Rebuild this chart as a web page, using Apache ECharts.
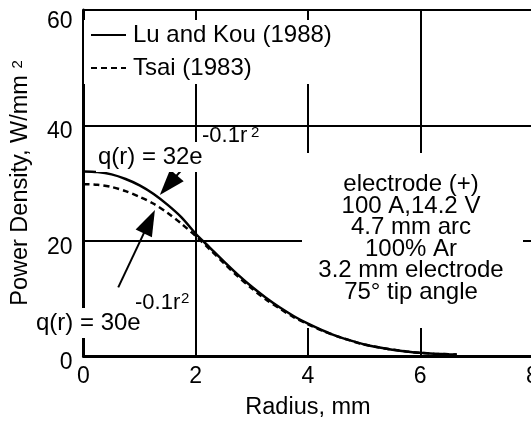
<!DOCTYPE html>
<html><head><meta charset="utf-8">
<script src="https://cdn.jsdelivr.net/npm/echarts@6/dist/echarts.min.js"></script>
<style>html,body{margin:0;padding:0;background:#fff}#c{width:531px;height:421px}</style>
</head><body><div id="c"></div>
<script>
var radius = [0,0.25,0.5,0.75,1,1.25,1.5,1.75,2,2.25,2.5,2.75,3,3.25,3.5,3.75,4,4.25,4.5,4.75,5,5.25,5.5,5.75,6,6.25,6.5,6.65];
var luKou = [32,31.9,31.5,30.7,29.6,28.1,26.2,24.0,21.2,18.8,16.4,14.1,12.0,10.1,8.4,6.9,5.6,4.5,3.5,2.7,2.0,1.5,1.1,0.8,0.55,0.4,0.3,0.25];
var tsai = [29.8,29.7,29.3,28.6,27.6,26.4,24.8,22.9,20.8,18.5,16.1,13.8,11.7,9.8,8.2,6.7,5.5,4.4,3.5,2.7,2.0,1.5,1.1,0.8,0.55,0.4,0.3,0.25];
var xTicks = [0,2,4,6,8];
var yTicks = [0,20,40,60];
var seriesNames = ['Lu and Kou (1988)','Tsai (1983)'];
var infoLines = ['electrode (+)','100 A,14.2 V','4.7 mm arc','100% Ar','3.2 mm electrode','75\u00b0 tip angle'];
// arrow annotations: [tail, head] in data coords
var arrow1 = [[1.747,32.25],[1.512,29.62]];
var arrow2 = [[0.619,11.91],[1.173,23.29]];

var FONT = "'Liberation Sans', Arial, Helvetica, sans-serif";
function pairs(xs, ys){ return xs.map(function(x,i){ return [x, ys[i]]; }); }

var chart = echarts.init(document.getElementById('c'), null, {renderer:'canvas'});
var txt = function(text, x, y, size, bg, align){
  return {type:'text', z:50, x:x, y:y, style:{text:text, fontFamily:FONT, fontSize:size, fill:'#000',
    textAlign:align||'left', textVerticalAlign:'middle', backgroundColor:bg?'#fff':null, padding:bg?[3,2,3,2]:0}};
};
chart.setOption({
  animation:false,
  backgroundColor:'#fff',
  grid:{left:83.5, top:10, width:449, height:346, outerBoundsMode:'none'},
  xAxis:{type:'value', min:xTicks[0], max:xTicks[xTicks.length-1], interval:2,
    name:'Radius, mm', nameLocation:'middle', nameGap:40,
    nameTextStyle:{fontFamily:FONT, fontSize:23.5, color:'#000'},
    axisLine:{lineStyle:{color:'#000', width:3}}, axisTick:{show:false},
    axisLabel:{fontFamily:FONT, fontSize:23, color:'#000', margin:9, showMaxLabel:true},
    splitLine:{show:true, lineStyle:{color:'#000', width:2}}},
  yAxis:{type:'value', min:yTicks[0], max:yTicks[yTicks.length-1], interval:20,
    name:'Power Density, W/mm {s|2}', nameLocation:'middle', nameGap:51,
    nameTextStyle:{fontFamily:FONT, fontSize:23.5, color:'#000', rich:{s:{fontFamily:FONT, fontSize:15, color:'#000', padding:[0,0,5,0]}}},
    axisLine:{lineStyle:{color:'#000', width:3}}, axisTick:{show:false},
    axisLabel:{fontFamily:FONT, fontSize:23, color:'#000', margin:11,
      formatter:function(v){ return v===60 ? '{a|60}' : '{b|'+v+'}'; },
      rich:{a:{fontFamily:FONT, fontSize:23, color:'#000', padding:[24,0,0,0]},
            b:{fontFamily:FONT, fontSize:23, color:'#000', padding:[13,0,0,0]}}},
    splitLine:{show:true, lineStyle:{color:'#000', width:2}}},
  legend:{left:84, top:20, orient:'vertical', itemWidth:35, itemHeight:12, itemGap:9,
    backgroundColor:'#fff', padding:[3,10,4,6],
    itemStyle:{opacity:0},
    textStyle:{fontFamily:FONT, fontSize:24, color:'#000', lineHeight:24, padding:[0,0,0,2]},
    data:seriesNames},
  series:[
    {name:seriesNames[0], type:'line', data:pairs(radius, luKou), showSymbol:false, symbol:'none', smooth:0.3,
      lineStyle:{color:'#000', width:2.5}, itemStyle:{color:'#000'}, z:5,
      markLine:{silent:true, symbol:['none','triangle'], symbolSize:[18,26], label:{show:false},
        lineStyle:{color:'#000', width:2, type:'solid'}, itemStyle:{color:'#000'},
        data:[[{coord:arrow1[0]},{coord:arrow1[1]}],[{coord:arrow2[0]},{coord:arrow2[1]}]]}},
    {name:seriesNames[1], type:'line', data:pairs(radius, tsai), showSymbol:false, symbol:'none', smooth:0.3,
      lineStyle:{color:'#000', width:2.5, type:[6,4]}, itemStyle:{color:'#000'}, z:4}
  ],
  graphic:[
    {type:'rect', z:1, shape:{x:302, y:153, width:221, height:175}, style:{fill:'#fff'}},
    {type:'text', z:50, x:411, y:174, style:{text:infoLines.join('\n'), fontFamily:FONT, fontSize:24, lineHeight:21.5,
      fill:'#000', textAlign:'center', textVerticalAlign:'top'}},
    txt('q(r) = 32e', 96, 157, 24, true),
    txt('-0.1r', 202, 136, 22, false),
    txt('2', 251, 133, 15, false),
    txt('q(r) = 30e', 34, 323, 24, true),
    txt('-0.1r', 135, 303, 22, false),
    txt('2', 181, 299, 15, false)
  ]
});
</script></body></html>
